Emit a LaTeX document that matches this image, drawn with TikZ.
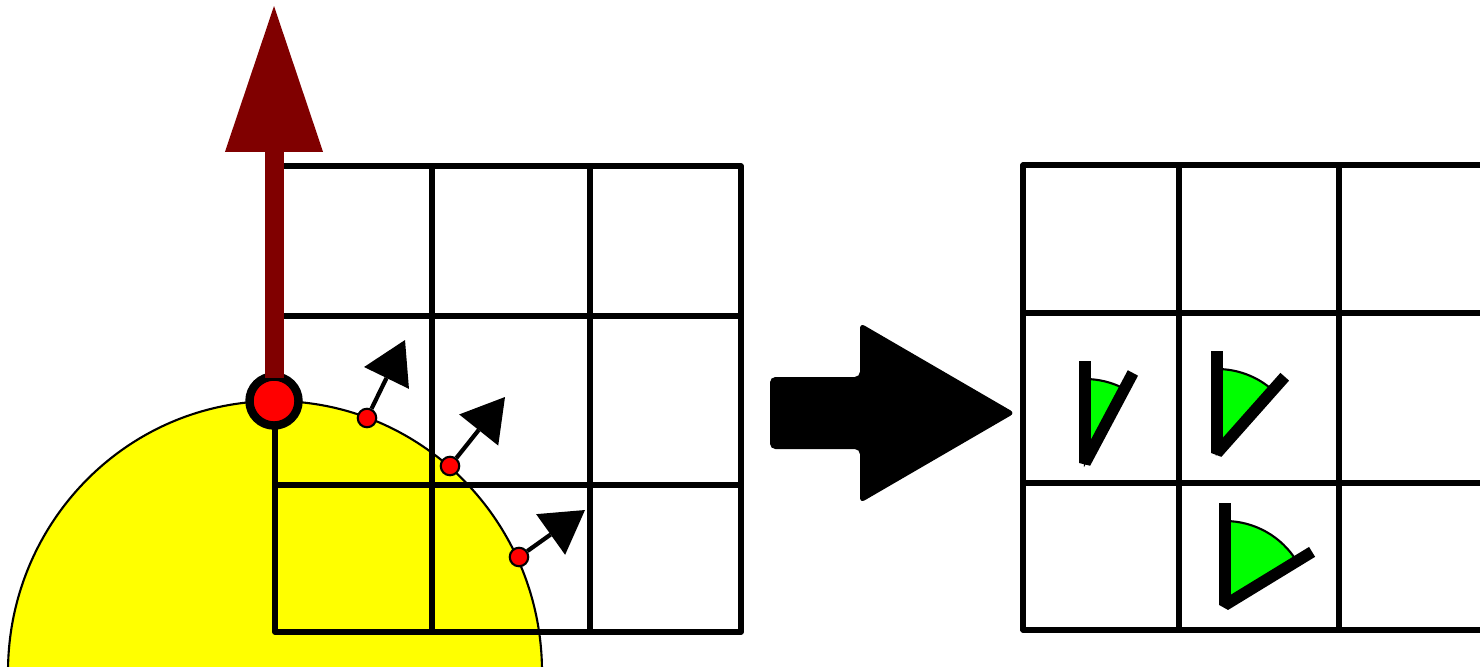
\documentclass[tikz,border=0pt]{standalone}
\usetikzlibrary{arrows.meta,calc}
\definecolor{darkred}{HTML}{800000}
\definecolor{sungreen}{HTML}{00FF00}
\definecolor{bodyyellow}{HTML}{FFFF00}
\definecolor{pointred}{HTML}{FF0000}
\begin{document}
\begin{tikzpicture}[x=0.01cm,y=-0.01cm,
  gridline/.style={line width=1.5pt, line cap=round, line join=round},
  bigdot/.style={circle, fill=pointred, draw=black, line width=2.4pt, minimum size=0.49cm, inner sep=0pt},
  smalldot/.style={circle, fill=pointred, draw=black, line width=0.6pt, minimum size=0.185cm, inner sep=0pt},
  normalarrow/.style={line width=1.2pt, -{Triangle[length=12pt, width=14.2pt, line width=0pt]}},
  upwardarrow/.style={draw=darkred, line width=5.4pt, -{Triangle[length=41.5pt, width=27.9pt, line width=0pt]}},
  wedgeline/.style={line width=3.3pt, line join=bevel},
  wedgefill/.style={fill=sungreen, draw=black, line width=0.6pt}]
\useasboundingbox (0,0) rectangle (1480,666);
\begin{scope}
\clip (0,0) rectangle (1480,666);
% yellow body
\draw[fill=bodyyellow, line width=0.6pt] (275,672) ellipse[x radius=267, y radius=271];
% left grid
\draw[gridline] (275,166) rectangle (741,632);
\draw[gridline] (432,166) -- (432,632);
\draw[gridline] (590,166) -- (590,632);
\draw[gridline] (275,316) -- (741,316);
\draw[gridline] (275,485) -- (741,485);
% right grid
\draw[gridline] (1023,165) -- (1500,165);
\draw[gridline] (1023,630) -- (1500,630);
\draw[gridline] (1023,165) -- (1023,630);
\draw[gridline] (1179,165) -- (1179,630);
\draw[gridline] (1339,165) -- (1339,630);
\draw[gridline] (1023,313) -- (1500,313);
\draw[gridline] (1023,483) -- (1500,483);
\end{scope}
% red source point with upward arrow
\node[bigdot] (src) at (274,401) {};
\coordinate (srctip) at (274,6);
\draw[upwardarrow] ([yshift=6.5pt]src.center) -- (srctip);
% surface points with normals
\node[smalldot] (d1) at (367,418) {};
\node[smalldot] (d2) at (450,466) {};
\node[smalldot] (d3) at (519,557) {};
\coordinate (t1) at (405,340);
\coordinate (t2) at (505,397);
\coordinate (t3) at (585,510);
\draw[normalarrow] (d1) -- (t1);
\draw[normalarrow] (d2) -- (t2);
\draw[normalarrow] (d3) -- (t3);
% big block arrow
\fill[rounded corners=1.5pt] (770,377) -- (860,377) -- (860,323) -- (1015,413) -- (860,503) -- (860,449) -- (770,449) -- cycle;
% wedges
\foreach \ax/\ay/\ang in {1085/463/28, 1217/453/41.6, 1225/605/58.6}{
  \filldraw[wedgefill] (\ax,\ay) -- ++(-90:84) arc[start angle=-90, end angle={-90+\ang}, radius=84] -- cycle;
  \draw[wedgeline] ($(\ax,\ay)+(-90:102)$) -- (\ax,\ay) -- ++({-90+\ang}:102);
}
\end{tikzpicture}
\end{document}
